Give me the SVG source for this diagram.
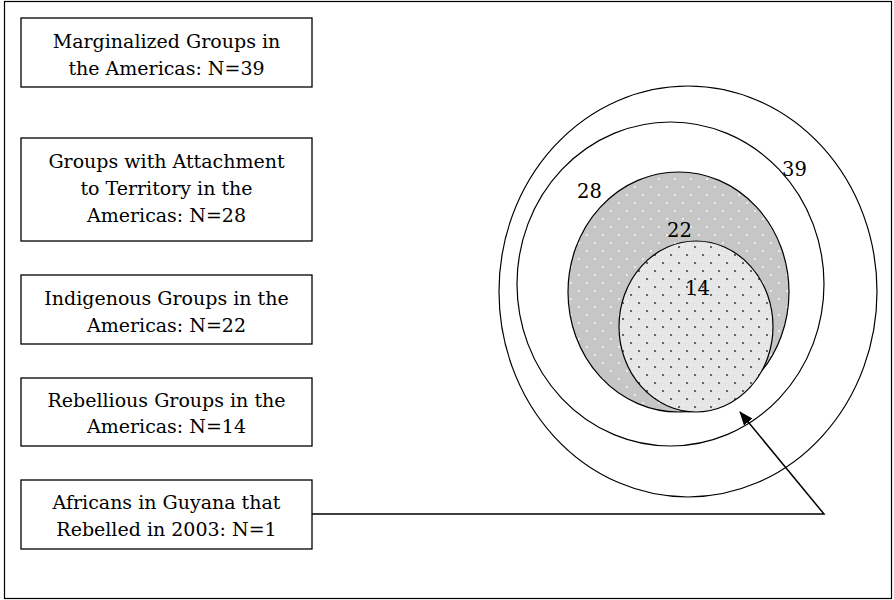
<svg xmlns="http://www.w3.org/2000/svg" width="894" height="600" viewBox="0 0 894 600">
<defs>
<style>
.box{fill:#fff;stroke:#000;stroke-width:1.3}
.t{font-family:"DejaVu Serif","Liberation Serif",serif;font-size:19px;fill:#000;text-anchor:middle}
.n{font-family:"DejaVu Serif","Liberation Serif",serif;font-size:19.5px;fill:#000}
.c{stroke:#000;stroke-width:1.2}
.ln{fill:none;stroke:#000;stroke-width:1.5}
</style>
<pattern id="pg" width="16" height="16" patternUnits="userSpaceOnUse">
<rect width="16" height="16" fill="#c6c6c6"/>
<rect x="2" y="2" width="2" height="2" fill="#ebebeb"/>
<rect x="10" y="10" width="2" height="2" fill="#ebebeb"/>
</pattern>
<pattern id="pl" width="16" height="16" patternUnits="userSpaceOnUse">
<rect width="16" height="16" fill="#e6e6e6"/>
<rect x="6" y="6" width="2" height="2" fill="#666"/>
<rect x="14" y="14" width="2" height="2" fill="#666"/>
<rect x="10" y="4" width="2" height="2" fill="#f2f2f2"/>
<rect x="2" y="12" width="2" height="2" fill="#f2f2f2"/>
</pattern>
<marker id="ah" markerWidth="14" markerHeight="11" refX="13" refY="5.5" orient="auto" markerUnits="userSpaceOnUse">
<path d="M0,0 L14,5.5 L0,11 Z" fill="#000"/>
</marker>
</defs>
<rect x="4.5" y="1.5" width="887" height="597" fill="#fff" stroke="#000" stroke-width="1.2"/>
<g id="venn">
<ellipse id="c39" class="c" cx="688" cy="291.5" rx="189" ry="205.5" fill="#fff"/>
<ellipse id="c28" class="c" cx="670.5" cy="284" rx="153.5" ry="162" fill="#fff"/>
<ellipse id="c22" class="c" cx="678.5" cy="292" rx="110.5" ry="120" fill="url(#pg)"/>
<ellipse id="c14" class="c" cx="696" cy="326.5" rx="77" ry="85.5" fill="url(#pl)"/>
<text class="n" x="782" y="176">39</text>
<text class="n" x="577" y="198">28</text>
<text class="n" x="667" y="237">22</text>
<text class="n" x="685" y="295">14</text>
</g>
<g id="connectors">
<polyline class="ln" points="312,514 824,514 740,412" marker-end="url(#ah)"/>
</g>
<g id="box1">
<rect class="box" x="21" y="18" width="291" height="69"/>
<text class="t" x="166.5" y="48">Marginalized Groups in</text>
<text class="t" x="166.5" y="75">the Americas: N=39</text>
</g>
<g id="box2">
<rect class="box" x="21" y="138" width="291" height="103"/>
<text class="t" x="166.5" y="168">Groups with Attachment</text>
<text class="t" x="166.5" y="195">to Territory in the</text>
<text class="t" x="166.5" y="222">Americas: N=28</text>
</g>
<g id="box3">
<rect class="box" x="21" y="275" width="291" height="69"/>
<text class="t" x="166.5" y="305">Indigenous Groups in the</text>
<text class="t" x="166.5" y="332">Americas: N=22</text>
</g>
<g id="box4">
<rect class="box" x="21" y="378" width="291" height="68"/>
<text class="t" x="166.5" y="407">Rebellious Groups in the</text>
<text class="t" x="166.5" y="433">Americas: N=14</text>
</g>
<g id="box5">
<rect class="box" x="21" y="480" width="291" height="69"/>
<text class="t" x="166.5" y="509">Africans in Guyana that</text>
<text class="t" x="166.5" y="536">Rebelled in 2003: N=1</text>
</g>
</svg>
